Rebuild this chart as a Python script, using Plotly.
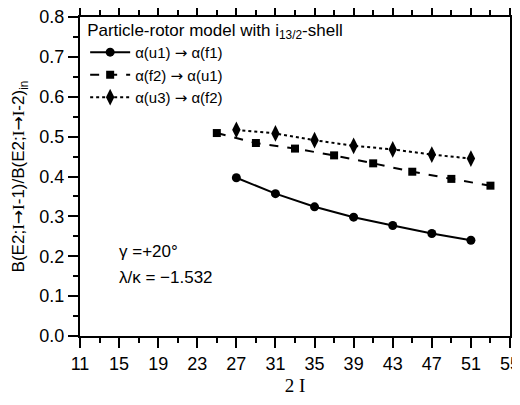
import plotly.graph_objects as go

# 2I values and B(E2) ratios
spin_u1_f1 = [27, 31, 35, 39, 43, 47, 51]
ratio_u1_f1 = [0.397, 0.357, 0.324, 0.298, 0.277, 0.257, 0.240]

spin_f2_u1 = [25, 29, 33, 37, 41, 45, 49, 53]
ratio_f2_u1 = [0.509, 0.484, 0.470, 0.453, 0.433, 0.412, 0.394, 0.377]

spin_u3_f2 = [27, 31, 35, 39, 43, 47, 51]
ratio_u3_f2 = [0.517, 0.508, 0.491, 0.477, 0.468, 0.455, 0.445]

x_ticks = list(range(11, 56, 4))

font = "Liberation Sans, Arial, sans-serif"
arrow = '<span style="font-family:DejaVu Sans">→</span>'
serif_i = '<span style="font-family:Liberation Serif">I</span>'

fig = go.Figure()
fig.add_trace(go.Scatter(
    x=spin_u1_f1, y=ratio_u1_f1, mode="lines+markers",
    name=f"α(u1) {arrow} α(f1)",
    line=dict(color="black", width=2, dash="solid"),
    marker=dict(symbol="circle", size=9, color="black"),
))
fig.add_trace(go.Scatter(
    x=spin_f2_u1, y=ratio_f2_u1, mode="lines+markers",
    name=f"α(f2) {arrow} α(u1)",
    line=dict(color="black", width=2, dash="dash"),
    marker=dict(symbol="square", size=8, color="black"),
))
fig.add_trace(go.Scatter(
    x=spin_u3_f2, y=ratio_u3_f2, mode="lines+markers",
    name=f"α(u3) {arrow} α(f2)",
    line=dict(color="black", width=2, dash="dot"),
    marker=dict(symbol="diamond-tall", size=12, color="black"),
))

axis_common = dict(
    showline=True, linecolor="black", linewidth=2, mirror="allticks",
    ticks="outside", ticklen=10, tickwidth=2, tickcolor="black",
    showgrid=False, zeroline=False, automargin=False,
    ticklabeloverflow="allow",
    tickfont=dict(family=font, size=18, color="black"),
)

fig.update_xaxes(
    range=[11, 55], tickvals=x_ticks,
    minor=dict(dtick=2, tick0=11, ticks="outside", ticklen=5, tickwidth=2, tickcolor="black"),
    title=dict(text="2 I", font=dict(family="Liberation Serif, Times New Roman, serif", size=19, color="black"), standoff=6),
    **axis_common,
)
fig.update_yaxes(
    range=[0, 0.8], dtick=0.1, tick0=0, tickformat=".1f",
    minor=dict(dtick=0.05, ticks="outside", ticklen=5, tickwidth=2, tickcolor="black"),
    title=dict(text=f"B(E2;{serif_i}{arrow}{serif_i}-1)/B(E2;{serif_i}{arrow}{serif_i}-2)<sub>in</sub>",
               font=dict(family=font, size=17, color="black"), standoff=12),
    **axis_common,
)

fig.add_annotation(x=0.087, y=0.264, xref="paper", yref="paper", xanchor="left", yanchor="middle",
                   text="γ =+20°", showarrow=False, font=dict(family=font, size=17, color="black"))
fig.add_annotation(x=0.087, y=0.183, xref="paper", yref="paper", xanchor="left", yanchor="middle",
                   text="λ/κ = −1.532", showarrow=False, font=dict(family=font, size=17, color="black"))

# the page puts the figure 8px in from the top-left corner
fig.update_layout(
    width=512, height=397,
    margin=dict(l=72, r=10, t=6, b=69),
    plot_bgcolor="white", paper_bgcolor="white",
    legend=dict(
        x=0.012, y=1.01, xanchor="left", yanchor="top",
        bgcolor="rgba(0,0,0,0)",
        title=dict(text="Particle-rotor model with i<sub>13/2</sub>-shell", side="top",
                   font=dict(family=font, size=17, color="black")),
        font=dict(family=font, size=15, color="black"),
        tracegroupgap=0, itemwidth=40,
    ),
)

fig.write_html("out.html")
